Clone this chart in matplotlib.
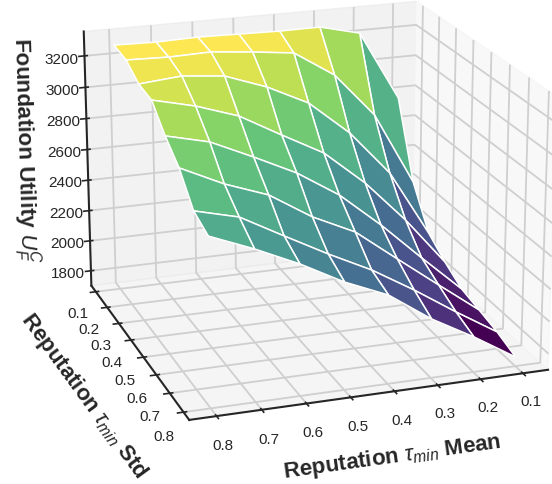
import numpy as np
import matplotlib
matplotlib.use('Agg')
import matplotlib.pyplot as plt
from matplotlib.colors import ListedColormap

plt.rcParams['font.family'] = ['Liberation Sans', 'DejaVu Sans']
plt.rcParams['mathtext.fontset'] = 'custom'
plt.rcParams['mathtext.rm'] = 'Liberation Sans'
plt.rcParams['mathtext.it'] = 'Liberation Sans:italic'
plt.rcParams['mathtext.bf'] = 'Liberation Sans:bold'

mean_vals = [0.8, 0.7, 0.6, 0.5, 0.4, 0.3, 0.2, 0.1]
std_vals = [0.1, 0.2, 0.3, 0.4, 0.5, 0.6, 0.7, 0.8]
utility = [
    [3283, 3278, 3285, 3280, 3275, 3277, 3214, 2763],
    [3266, 3259, 3266, 3241, 3210, 3044, 2760, 2290],
    [3196, 3219, 3193, 3099, 2972, 2755, 2468, 2043],
    [3178, 3115, 3027, 2882, 2742, 2523, 2255, 1949],
    [3045, 2981, 2861, 2734, 2568, 2349, 2107, 1873],
    [2941, 2816, 2720, 2556, 2432, 2232, 2035, 1841],
    [2778, 2711, 2567, 2426, 2296, 2139, 1968, 1807],
    [2726, 2619, 2498, 2357, 2245, 2065, 1919, 1758],
]
tick_vals = [0.1, 0.2, 0.3, 0.4, 0.5, 0.6, 0.7, 0.8]
z_ticks = [1800, 2000, 2200, 2400, 2600, 2800, 3000, 3200]

# viridis with the weak channels lifted a bit, the reference looks washed out
n = np.linspace(0, 1, 256)
base = plt.get_cmap('viridis')(n)[:, :3]
lift = 0.29 * np.minimum(1, n / 0.6)
soft_viridis = ListedColormap(base + lift[:, None] * (1 - base) ** 3)

W, H = 552, 484
fig = plt.figure(figsize=(W/100, H/100), dpi=100)
ax = fig.add_axes([17.9/W, -5.2/H, 569.7/W, 569.7/H], projection='3d')
ax.set_box_aspect((4, 4, 3.057))
ax.set_proj_type('persp', focal_length=0.84)
ax.view_init(elev=19.3, azim=71.0)

X, Y = np.meshgrid(mean_vals, std_vals)
Z = np.array(utility)
ax.plot_surface(X, Y, Z, cmap=soft_viridis, edgecolor='white', linewidth=1.1,
                rstride=1, cstride=1, antialiased=True)

ax.set_xlim(0.04, 0.86)
ax.set_ylim(0.06, 0.84)
ax.set_zlim(1700, 3354)
ax.set_xticks(tick_vals)
ax.set_yticks(tick_vals)
ax.set_zticks(z_ticks)
ax.tick_params(labelsize=11, colors='#262626')

ax.set_xlabel(r'Reputation $\tau_{min}$ Mean', fontsize=16, fontweight='bold', color='#262626', labelpad=11)
ax.set_ylabel(r'Reputation $\tau_{min}$ Std', fontsize=16, fontweight='bold', color='#262626', labelpad=12)
ax.set_zlabel(r'Foundation Utility $U_F^C$', fontsize=16, fontweight='bold', color='#262626', labelpad=11)

for axis in [ax.xaxis, ax.yaxis, ax.zaxis]:
    axis._axinfo['grid']['color'] = '#cfcfcf'
    axis._axinfo['grid']['linewidth'] = 1.3
    axis._axinfo['tick']['color'] = '#262626'
    axis._axinfo['tick']['linewidth'] = {True: 1.2, False: 1.2}
    axis.line.set_color('#262626')
    axis.line.set_linewidth(1.5)

fig.savefig('out.png', dpi=100)
